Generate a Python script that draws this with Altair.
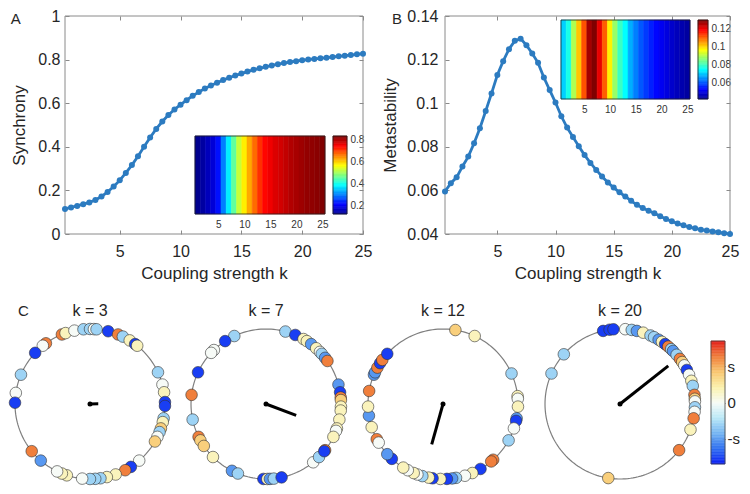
import altair as alt
import numpy as np
import pandas as pd

FONT = "Liberation Sans"
TXT = "#262626"
AXC = "#8a8a8a"
BLUE = "#2c7bc0"

# ---------------- data: panels A and B ----------------
K = [0.5, 1.0, 1.5, 2.0, 2.5, 3.0, 3.5, 4.0, 4.5, 5.0,
     5.5, 6.0, 6.5, 7.0, 7.5, 8.0, 8.5, 9.0, 9.5, 10.0,
     10.5, 11.0, 11.5, 12.0, 12.5, 13.0, 13.5, 14.0, 14.5, 15.0,
     15.5, 16.0, 16.5, 17.0, 17.5, 18.0, 18.5, 19.0, 19.5, 20.0,
     20.5, 21.0, 21.5, 22.0, 22.5, 23.0, 23.5, 24.0, 24.5, 25.0]
SYNC = [0.115, 0.122, 0.129, 0.137, 0.145, 0.156, 0.172, 0.193, 0.218, 0.246,
        0.280, 0.316, 0.357, 0.400, 0.443, 0.482, 0.516, 0.546, 0.571, 0.593,
        0.614, 0.634, 0.651, 0.667, 0.681, 0.694, 0.706, 0.717, 0.727, 0.736,
        0.745, 0.753, 0.760, 0.767, 0.773, 0.779, 0.784, 0.789, 0.793, 0.797,
        0.800, 0.803, 0.806, 0.809, 0.812, 0.815, 0.818, 0.821, 0.824, 0.827]
META = [0.0595, 0.0633, 0.0660, 0.0710, 0.0755, 0.0816, 0.0885, 0.0964, 0.1045, 0.1129,
        0.1193, 0.1248, 0.1286, 0.1296, 0.1266, 0.1228, 0.1185, 0.1118, 0.1060, 0.1003,
        0.0940, 0.0888, 0.0845, 0.0803, 0.0762, 0.0726, 0.0694, 0.0664, 0.0636, 0.0613,
        0.0591, 0.0572, 0.0552, 0.0534, 0.0519, 0.0507, 0.0495, 0.0481, 0.0469, 0.0458,
        0.0448, 0.0440, 0.0432, 0.0426, 0.0420, 0.0416, 0.0412, 0.0408, 0.0404, 0.0400]

K_INSET = [1, 2, 3, 4, 5, 6, 7, 8, 9, 10, 11, 12, 13, 14, 15, 16, 17, 18, 19, 20, 21, 22, 23, 24, 25]
SYNC_INSET = [0.127, 0.141, 0.162, 0.184, 0.226, 0.304, 0.382, 0.460, 0.531, 0.581,
              0.630, 0.673, 0.715, 0.744, 0.758, 0.772, 0.779, 0.790, 0.801, 0.808,
              0.815, 0.822, 0.825, 0.829, 0.836]
META_INSET = [0.071, 0.077, 0.090, 0.102, 0.112, 0.127, 0.130, 0.121, 0.111, 0.098,
              0.088, 0.080, 0.075, 0.068, 0.064, 0.0605, 0.058, 0.0556, 0.0534, 0.0517,
              0.050, 0.048, 0.0464, 0.045, 0.0438]

X_TICKS = [5, 10, 15, 20, 25]
A_YTICKS = [0, 0.2, 0.4, 0.6, 0.8, 1.0]
B_YTICKS = [0.04, 0.06, 0.08, 0.10, 0.12, 0.14]
A_CB_TICKS = [0.2, 0.4, 0.6, 0.8]
B_CB_TICKS = [0.06, 0.08, 0.10, 0.12]
A_CLIM = [0.127, 0.836]
B_CLIM = [0.042, 0.130]
JET_F = [0, 0.125, 0.375, 0.625, 0.875, 1]
JET_C = ["#00008f", "#0000ff", "#00ffff", "#ffff00", "#ff0000", "#800000"]

# ---------------- data: panel C ----------------
DB, MB, LB, W0, LY, LO, OR = -0.9, -0.6, -0.35, 0.0, 0.2, 0.45, 0.75
PANEL_K = [3, 7, 12, 20]
ANG_K3 = [112, 109, 102, 95, 90, 87, 85, 76, 68, 64, 58, 53, 51, 126, 129, 137,
          157, 171.5, 179, 25, 15, 9, 1.5, -1.5, -11, -14, -19, -22, -26, -30,
          -49, -57, -62, -70, -77, -82, -86, -90, -96, -108, -112, -116, -141, -131]
COL_K3 = [OR, LY, W0, LB, LB, W0, LB, DB, OR, LB, LY, DB, LY, OR, W0, DB,
          LB, W0, DB, LB, W0, LY, DB, DB, LB, LY, LO, LB, W0, LO,
          W0, DB, OR, LY, LY, LB, LB, LB, W0, LY, LY, W0, OR, MB]
ANG_K7 = [75, 67, 60, 57, 53, 48, 44, 42, 38, 35, 115, 123, 134, 137, 155,
          173, 192, 206, 209, 214, 225, 243, 248, -92, -89, -87, -84, -78,
          -51, -45, -38, -39, 15, 9, 5, 3, -2, -5, -12, -19, -21, -26]
COL_K7 = [LB, DB, LY, LY, MB, LY, W0, LB, MB, OR, LB, DB, W0, W0, DB,
          OR, LB, OR, LO, LO, LY, MB, LB, DB, LY, MB, LB, DB,
          W0, LB, OR, DB, MB, DB, OR, LO, LY, LY, LY, LY, W0, LY]
ANG_K12 = [80.5, 65, 24, 6, 4, -2, -11, -13, -19, -29, -48, -50, -60, -67, -73,
           -80, -83, -87, -92, -98, -101, -106, -110, -113, -118, -122, -133,
           -138, -152, -149, -162, -171, -178, 170, 157, 155, 151, 147, 144, 138]
COL_K12 = [LO, LY, LB, LY, W0, LY, MB, DB, W0, LB, OR, OR, DB, LY, W0,
           LB, MB, DB, LY, DB, LY, LB, W0, LY, W0, LY, DB,
           MB, OR, W0, LY, MB, LY, OR, MB, MB, OR, DB, OR, DB]
ANG_K20 = [103, 98, 95, 86, 81, 77, 72, 66, 63, 59, 56, 53, 50, 47, 45, 41, 37,
           34, 31, 27, 23, 18, 14, 7, 4, 2, -2.5, -6, -11, -20, -38, -99, 138.5, 156]
COL_K20 = [DB, DB, DB, W0, LB, MB, LY, LB, LB, MB, LY, DB, OR, LB, MB, LB, OR,
           LO, W0, DB, W0, LY, LB, OR, LO, W0, LB, W0, OR, LY, OR, LO, LB, LB]
ORDER_R = [0.11, 0.43, 0.56, 0.82]
ORDER_PSI = [1, -20.6, -105.6, 38.3]
S_TICK = 0.59
DIV_D = [-1, -0.75, -0.5, -0.25, 0, 0.25, 0.5, 0.75, 1]
DIV_C = ["#0b1ef5", "#2f6ff0", "#74b4f2", "#b9e8f7", "#f7fbf7",
         "#fbf1ad", "#f8c770", "#f07f3c", "#e3201b"]

# ---------------- layout (pixels inside the single view) ----------------
VW, VH = 734, 478
A_X, A_Y = [57, 355], [226, 8]
B_X, B_Y = [437, 722], [226, 8]
A_INS_X, A_INS_Y, A_CB_X = [187, 317], [206, 128], [325, 339]
B_INS_X, B_INS_Y, B_CB_X = [553, 682], [91, 12], [690, 700]
C_CX, C_CY, C_R = [82, 258, 435, 612], 396, 75
CC_X, CC_Y = [703, 717], [456, 333]
TL = 4


def lin(dom, rng):
    return alt.Scale(domain=dom, range=rng, nice=False, zero=False)


def jet(lo, hi):
    return alt.Scale(type="linear", domain=[lo + f * (hi - lo) for f in JET_F],
                     range=JET_C, interpolate="rgb", clamp=True)


def tick_axis(orient, offset, values):
    return alt.Axis(orient=orient, offset=offset, values=values, labels=False,
                    domain=False, grid=False, title=None, ticks=True, tickSize=TL,
                    tickColor=AXC, tickWidth=1)


ONE = pd.DataFrame({"o": [0]})
layers = []


def line_panel(letter, letter_xy, vals, ydom, yticks, yfmt, ytitle, px, py,
               lpad, tpad, ins_vals, clim, cbticks, ins_x, ins_y, cb_x):
    xdom = [0.5, 25]
    xs = lambda: lin(xdom, px)
    ys = lambda: lin(ydom, py)
    # frame with the labelled axes
    layers.append(alt.Chart(ONE).mark_rect(fillOpacity=0, stroke=AXC, strokeWidth=1).encode(
        x=alt.XDatum(xdom[0], scale=xs(), axis=alt.Axis(
            orient="bottom", offset=py[0] - VH, values=X_TICKS,
            title="Coupling strength k", ticks=False, domain=False, grid=False,
            labelFontSize=16, labelColor=TXT, labelFont=FONT, labelPadding=9,
            labelFlush=False, labelOverlap=False, titleFontSize=17,
            titleFontWeight="normal", titleColor=TXT, titleFont=FONT, titlePadding=6)),
        x2=alt.X2Datum(xdom[1]),
        y=alt.YDatum(ydom[0], scale=ys(), axis=alt.Axis(
            orient="left", offset=-px[0], values=yticks, format=yfmt, title=ytitle,
            ticks=False, domain=False, grid=False, labelFontSize=16, labelColor=TXT,
            labelFont=FONT, labelPadding=lpad, labelOverlap=False, titleFontSize=17,
            titleFontWeight="normal", titleColor=TXT, titleFont=FONT,
            titlePadding=tpad)),
        y2=alt.Y2Datum(ydom[1])))
    df = pd.DataFrame({"k": K, "v": vals})
    layers.append(alt.Chart(df).mark_line(color=BLUE, strokeWidth=2.8).encode(
        x=alt.X("k:Q", scale=xs(), axis=tick_axis("bottom", py[0] - TL - VH, X_TICKS)),
        y=alt.Y("v:Q", scale=ys(), axis=tick_axis("left", -(px[0] + TL), yticks))))
    layers.append(alt.Chart(df).mark_circle(color=BLUE, size=36, opacity=1).encode(
        x=alt.X("k:Q", scale=xs(), axis=tick_axis("top", -(py[1] + TL), X_TICKS)),
        y=alt.Y("v:Q", scale=ys(), axis=tick_axis("right", px[1] - TL - VW, yticks))))
    layers.append(alt.Chart(ONE).mark_text(text=letter, align="left", baseline="alphabetic",
                                           fontSize=15, font=FONT, color=TXT).encode(
        x=alt.XDatum(letter_xy[0], scale=xs(), axis=None),
        y=alt.YDatum(letter_xy[1], scale=ys(), axis=None)))

    # inset heat map + colour bar
    idom = [0.5, 25.5]
    cs = lambda: jet(*clim)
    hdf = pd.DataFrame({"k": K_INSET, "v": ins_vals})
    layers.append(alt.Chart(hdf).transform_calculate(
        k0="datum.k - 0.5", k1="datum.k + 0.5").mark_rect(strokeWidth=0.6).encode(
        x=alt.X("k0:Q", scale=lin(idom, ins_x), axis=alt.Axis(
            orient="bottom", offset=ins_y[0] - VH, values=X_TICKS, title=None,
            ticks=False, domain=False, grid=False, labelFontSize=10,
            labelColor="#333333", labelFont=FONT, labelPadding=5,
            labelFlush=False, labelOverlap=False)),
        x2="k1:Q",
        y=alt.YDatum(0, scale=lin([0, 1], ins_y), axis=None),
        y2=alt.Y2Datum(1),
        color=alt.Color("v:Q", scale=cs(), legend=None),
        stroke=alt.Stroke("v:Q", scale=cs(), legend=None)))
    layers.append(alt.Chart(ONE).mark_rect(fillOpacity=0, stroke="#222222", strokeWidth=0.8).encode(
        x=alt.XDatum(idom[0], scale=lin(idom, ins_x), axis=None),
        x2=alt.X2Datum(idom[1]),
        y=alt.YDatum(0, scale=lin([0, 1], ins_y), axis=None),
        y2=alt.Y2Datum(1)))
    edges = np.linspace(clim[0], clim[1], 61)
    cdf = pd.DataFrame({"a": edges[:-1], "b": edges[1:]})
    cdf["v"] = (cdf["a"] + cdf["b"]) / 2
    layers.append(alt.Chart(cdf).mark_rect(strokeWidth=0.6).encode(
        x=alt.XDatum(0, scale=lin([0, 1], cb_x), axis=None),
        x2=alt.X2Datum(1),
        y=alt.Y("a:Q", scale=lin(clim, ins_y), axis=alt.Axis(
            orient="right", offset=cb_x[1] - VW, values=cbticks, format=yfmt,
            title=None, ticks=False, domain=False, grid=False, labelFontSize=10,
            labelColor="#333333", labelFont=FONT, labelPadding=3, labelOverlap=False)),
        y2="b:Q",
        color=alt.Color("v:Q", scale=cs(), legend=None),
        stroke=alt.Stroke("v:Q", scale=cs(), legend=None)))
    layers.append(alt.Chart(ONE).mark_rect(fillOpacity=0, stroke="#222222", strokeWidth=0.8).encode(
        x=alt.XDatum(0, scale=lin([0, 1], cb_x), axis=None),
        x2=alt.X2Datum(1),
        y=alt.YDatum(clim[0], scale=lin(clim, ins_y), axis=None),
        y2=alt.Y2Datum(clim[1])))


line_panel("A", (-3.95, 0.963), SYNC, [0, 1], A_YTICKS, ".1~f", "Synchrony", A_X, A_Y,
           5, 9, SYNC_INSET, A_CLIM, A_CB_TICKS, A_INS_X, A_INS_Y, A_CB_X)
line_panel("B", (-4.06, 0.1363), META, [0.04, 0.14], B_YTICKS, ".2~f", "Metastability",
           B_X, B_Y, 7, 7, META_INSET, B_CLIM, B_CB_TICKS, B_INS_X, B_INS_Y, B_CB_X)


# ---------------- panel C ----------------
def div():
    return alt.Scale(type="linear", domain=DIV_D, range=DIV_C, interpolate="rgb", clamp=True)


def circle_panel(idx, kval, ang, col, R, psi, with_letter=False):
    cx = C_CX[idx]
    xs = lambda: lin([-1, 1], [cx - C_R, cx + C_R])
    ys = lambda: lin([-1, 1], [C_CY + C_R, C_CY - C_R])
    th = np.deg2rad(np.arange(0, 361, 2))
    ring = pd.DataFrame({"i": np.arange(len(th)), "x": np.cos(th), "y": np.sin(th)})
    a = np.deg2rad(np.array(ang, dtype=float))
    pdf = pd.DataFrame({"i": np.arange(len(ang)), "x": np.cos(a), "y": np.sin(a), "c": col})
    p = np.deg2rad(psi)
    odf = pd.DataFrame({"x0": [0.0], "y0": [0.0], "x1": [R * np.cos(p)], "y1": [R * np.sin(p)]})
    layers.append(alt.Chart(ring).mark_line(color="#7f7f7f", strokeWidth=1.2).encode(
        x=alt.X("x:Q", scale=xs(), axis=None), y=alt.Y("y:Q", scale=ys(), axis=None),
        order="i:Q"))
    layers.append(alt.Chart(pdf).mark_circle(size=135, opacity=1, stroke="#333333",
                                             strokeWidth=0.6).encode(
        x=alt.X("x:Q", scale=xs(), axis=None), y=alt.Y("y:Q", scale=ys(), axis=None),
        color=alt.Color("c:Q", scale=div(), legend=None), order="i:Q"))
    layers.append(alt.Chart(odf).mark_rule(color="black", strokeWidth=3).encode(
        x=alt.X("x0:Q", scale=xs(), axis=None), y=alt.Y("y0:Q", scale=ys(), axis=None),
        x2="x1:Q", y2="y1:Q"))
    layers.append(alt.Chart(odf).mark_circle(color="black", size=25, opacity=1).encode(
        x=alt.X("x0:Q", scale=xs(), axis=None), y=alt.Y("y0:Q", scale=ys(), axis=None)))
    layers.append(alt.Chart(ONE).mark_text(text=f"k = {kval}", align="center",
                                           baseline="alphabetic", fontSize=16, font=FONT,
                                           color=TXT).encode(
        x=alt.XDatum(0, scale=xs(), axis=None), y=alt.YDatum(1.17, scale=ys(), axis=None)))
    if with_letter:
        layers.append(alt.Chart(ONE).mark_text(text="C", align="left", baseline="alphabetic",
                                               fontSize=15, font=FONT, color=TXT).encode(
            x=alt.XDatum(-0.96, scale=xs(), axis=None),
            y=alt.YDatum(1.17, scale=ys(), axis=None)))


circle_panel(0, PANEL_K[0], ANG_K3, COL_K3, ORDER_R[0], ORDER_PSI[0], True)
circle_panel(1, PANEL_K[1], ANG_K7, COL_K7, ORDER_R[1], ORDER_PSI[1])
circle_panel(2, PANEL_K[2], ANG_K12, COL_K12, ORDER_R[2], ORDER_PSI[2])
circle_panel(3, PANEL_K[3], ANG_K20, COL_K20, ORDER_R[3], ORDER_PSI[3])

# colour bar of panel C
e = np.linspace(-1, 1, 81)
cbd = pd.DataFrame({"a": e[:-1], "b": e[1:]})
cbd["v"] = (cbd["a"] + cbd["b"]) / 2
CT = [-S_TICK, 0, S_TICK]
layers.append(alt.Chart(cbd).mark_rect(strokeWidth=0.5).encode(
    x=alt.XDatum(0, scale=lin([0, 1], CC_X), axis=None),
    x2=alt.X2Datum(1),
    y=alt.Y("a:Q", scale=lin([-1, 1], CC_Y), axis=alt.Axis(
        orient="right", offset=CC_X[1] - VW, values=CT,
        labelExpr="datum.value > 0.1 ? 's' : (datum.value < -0.1 ? '-s' : '0')",
        title=None, ticks=False, domain=False, grid=False, labelFontSize=15,
        labelColor=TXT, labelFont=FONT, labelPadding=2, labelOverlap=False)),
    y2="b:Q",
    color=alt.Color("v:Q", scale=div(), legend=None),
    stroke=alt.Stroke("v:Q", scale=div(), legend=None)))
layers.append(alt.Chart(ONE).mark_rect(fillOpacity=0, stroke="#444444", strokeWidth=0.8).encode(
    x=alt.XDatum(0, scale=lin([0, 1], CC_X), axis=None),
    x2=alt.X2Datum(1),
    y=alt.YDatum(-1, scale=lin([-1, 1], CC_Y), axis=alt.Axis(
        orient="left", offset=-(CC_X[0] + 3), values=CT, labels=False, domain=False,
        grid=False, title=None, ticks=True, tickSize=3, tickColor="#555555")),
    y2=alt.Y2Datum(1)))
layers.append(alt.Chart(ONE).mark_rect(fillOpacity=0, strokeOpacity=0).encode(
    x=alt.XDatum(0, scale=lin([0, 1], CC_X), axis=None),
    x2=alt.X2Datum(1),
    y=alt.YDatum(-1, scale=lin([-1, 1], CC_Y), axis=alt.Axis(
        orient="right", offset=CC_X[1] - 3 - VW, values=CT, labels=False, domain=False,
        grid=False, title=None, ticks=True, tickSize=3, tickColor="#555555")),
    y2=alt.Y2Datum(1)))

chart = alt.layer(*layers).resolve_scale(
    x="independent", y="independent", color="independent", stroke="independent"
).properties(
    width=VW, height=VH, padding=0,
    autosize=alt.AutoSizeParams(type="none")
).configure(font=FONT).configure_view(stroke=None)

chart.save("out.html", embed_options={"renderer": "svg", "actions": False})
